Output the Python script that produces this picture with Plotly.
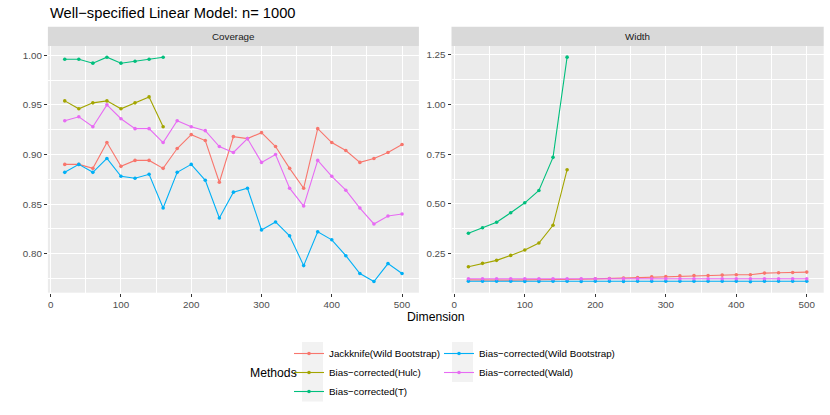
import plotly.graph_objects as go

# ---------------- data ----------------
dims = [20, 40, 60, 80, 100, 120, 140, 160, 180, 200, 220, 240, 260,
        280, 300, 320, 340, 360, 380, 400, 420, 440, 460, 480, 500]
dims_short = [20, 40, 60, 80, 100, 120, 140, 160]

methods = ["Jackknife(Wild Bootstrap)", "Bias\u2212corrected(Hulc)", "Bias\u2212corrected(T)",
           "Bias\u2212corrected(Wild Bootstrap)", "Bias\u2212corrected(Wald)"]
colors = ["#F8766D", "#A3A500", "#00BF7D", "#00B0F6", "#E76BF3"]

cov_jack = [0.890, 0.890, 0.886, 0.912, 0.888, 0.894, 0.894, 0.886, 0.906, 0.920, 0.914, 0.872, 0.918,
            0.916, 0.922, 0.908, 0.886, 0.866, 0.926, 0.912, 0.904, 0.892, 0.896, 0.902, 0.910]
cov_hulc = [0.954, 0.946, 0.952, 0.954, 0.946, 0.952, 0.958, 0.928]
cov_t = [0.996, 0.996, 0.992, 0.998, 0.992, 0.994, 0.996, 0.998]
cov_wb = [0.882, 0.890, 0.882, 0.896, 0.878, 0.876, 0.880, 0.846, 0.882, 0.890, 0.874, 0.836, 0.862,
          0.866, 0.824, 0.832, 0.818, 0.788, 0.822, 0.814, 0.798, 0.780, 0.772, 0.790, 0.780]
cov_wald = [0.934, 0.938, 0.928, 0.950, 0.936, 0.926, 0.926, 0.912, 0.934, 0.928, 0.924, 0.908, 0.902,
            0.916, 0.892, 0.900, 0.866, 0.848, 0.894, 0.878, 0.864, 0.846, 0.830, 0.838, 0.840]

wid_jack = [0.119, 0.118, 0.118, 0.118, 0.119, 0.119, 0.120, 0.121, 0.122, 0.124, 0.126, 0.128, 0.131,
            0.134, 0.136, 0.139, 0.141, 0.141, 0.143, 0.145, 0.145, 0.153, 0.155, 0.156, 0.158]
wid_hulc = [0.185, 0.202, 0.217, 0.242, 0.269, 0.304, 0.393, 0.672]
wid_t = [0.353, 0.381, 0.408, 0.456, 0.506, 0.568, 0.734, 1.237]
wid_wb = [0.112, 0.112, 0.112, 0.112, 0.111, 0.111, 0.112, 0.112, 0.111, 0.112, 0.112, 0.111, 0.112,
          0.112, 0.112, 0.112, 0.112, 0.112, 0.112, 0.112, 0.110, 0.112, 0.112, 0.112, 0.112]
wid_wald = [0.125, 0.125, 0.125, 0.125, 0.125, 0.125, 0.125, 0.125, 0.125, 0.125, 0.125, 0.125, 0.125,
            0.125, 0.125, 0.125, 0.125, 0.125, 0.125, 0.125, 0.125, 0.125, 0.125, 0.125, 0.125]

coverage = [(dims, cov_jack), (dims_short, cov_hulc), (dims_short, cov_t), (dims, cov_wb), (dims, cov_wald)]
width = [(dims, wid_jack), (dims_short, wid_hulc), (dims_short, wid_t), (dims, wid_wb), (dims, wid_wald)]
legend_of = ["legend", "legend", "legend", "legend2", "legend2"]

# ---------------- layout geometry (pixels) ----------------
W, H = 830, 415
FONT = "Liberation Sans, Arial, sans-serif"
px = lambda v: v / W
py = lambda v: 1 - v / H

L1, R1 = 47.9, 418.9
L2, R2 = 451.5, 823.7
PT, PB = 46.0, 292.7
ST = 26.7

fig = go.Figure()

for i in range(5):
    x, y = coverage[i]
    fig.add_trace(go.Scatter(x=x, y=y, mode="lines+markers", name=methods[i],
                             line=dict(color=colors[i], width=1.1),
                             marker=dict(color=colors[i], size=3.6),
                             legend=legend_of[i], xaxis="x", yaxis="y"))
for i in range(5):
    x, y = width[i]
    fig.add_trace(go.Scatter(x=x, y=y, mode="lines+markers", name=methods[i],
                             line=dict(color=colors[i], width=1.1),
                             marker=dict(color=colors[i], size=3.6),
                             showlegend=False, xaxis="x2", yaxis="y2"))

axis_common = dict(showline=False, zeroline=False, ticks="outside", ticklen=3, tickwidth=1,
                   tickcolor="#333333", gridcolor="white", gridwidth=1.3,
                   tickfont=dict(family=FONT, size=9.8, color="#4D4D4D"))

fig.update_layout(
    width=W, height=H,
    margin=dict(l=0, r=0, t=0, b=0),
    paper_bgcolor="white", plot_bgcolor="#EBEBEB",
    font=dict(family=FONT, color="black"),
    xaxis=dict(domain=[px(L1), px(R1)], range=[-4, 524], tickmode="linear", tick0=0, dtick=100,
               minor=dict(tick0=50, dtick=100, showgrid=True, gridcolor="white", gridwidth=0.6, ticklen=0),
               anchor="y", **axis_common),
    yaxis=dict(domain=[py(PB), py(PT)], range=[0.7607, 1.0093], tickmode="linear", tick0=0.8, dtick=0.05,
               tickformat=".2f",
               minor=dict(tick0=0.775, dtick=0.05, showgrid=True, gridcolor="white", gridwidth=0.6, ticklen=0),
               anchor="x", **axis_common),
    xaxis2=dict(domain=[px(L2), px(R2)], range=[-4, 524], tickmode="linear", tick0=0, dtick=100,
                minor=dict(tick0=50, dtick=100, showgrid=True, gridcolor="white", gridwidth=0.6, ticklen=0),
                anchor="y2", **axis_common),
    yaxis2=dict(domain=[py(PB), py(PT)], range=[0.0547, 1.293], tickmode="linear", tick0=0.25, dtick=0.25,
                tickformat=".2f",
                minor=dict(tick0=0.125, dtick=0.25, showgrid=True, gridcolor="white", gridwidth=0.6, ticklen=0),
                anchor="x2", **axis_common),
    legend=dict(x=px(289), y=py(339), xanchor="left", yanchor="top", bgcolor="rgba(0,0,0,0)",
                font=dict(family=FONT, size=9.8, color="black"), tracegroupgap=0, itemwidth=30),
    legend2=dict(x=px(439), y=py(339), xanchor="left", yanchor="top", bgcolor="rgba(0,0,0,0)",
                 font=dict(family=FONT, size=9.8, color="black"), tracegroupgap=0, itemwidth=30),
)

shapes = []
annotations = []
for (l, r, label) in [(L1, R1, "Coverage"), (L2, R2, "Width")]:
    shapes.append(dict(type="rect", xref="paper", yref="paper", x0=px(l), x1=px(r),
                       y0=py(PT), y1=py(ST), fillcolor="#D9D9D9", line=dict(width=0), layer="below"))
    annotations.append(dict(text=label, xref="paper", yref="paper", x=px((l + r) / 2), y=py((PT + ST) / 2),
                            xanchor="center", yanchor="middle", showarrow=False,
                            font=dict(family=FONT, size=9.8, color="#1A1A1A")))

# legend key backgrounds (ggplot-style grey key boxes)
for (kx0, kx1, ky0, ky1) in [(302, 323, 342, 401.5), (452, 473, 342, 382)]:
    shapes.append(dict(type="rect", xref="paper", yref="paper", x0=px(kx0), x1=px(kx1),
                       y0=py(ky1), y1=py(ky0), fillcolor="#F2F2F2", line=dict(width=0), layer="below"))

annotations.append(dict(text="Well\u2212specified Linear Model: n= 1000", xref="paper", yref="paper",
                        x=px(47.5), y=py(13.3), xanchor="left", yanchor="middle", showarrow=False,
                        font=dict(family=FONT, size=14.7, color="black")))
annotations.append(dict(text="Dimension", xref="paper", yref="paper", x=px((L1 + R2) / 2), y=py(316.5),
                        xanchor="center", yanchor="middle", showarrow=False,
                        font=dict(family=FONT, size=12.2, color="black")))
annotations.append(dict(text="Methods", xref="paper", yref="paper", x=px(248), y=py(373.3),
                        xanchor="left", yanchor="middle", showarrow=False,
                        font=dict(family=FONT, size=12.2, color="black")))

fig.update_layout(shapes=shapes, annotations=annotations)
fig.write_html("out.html", config={"displayModeBar": False},
               post_script="document.body.style.margin='0px';document.body.style.overflow='hidden';")
